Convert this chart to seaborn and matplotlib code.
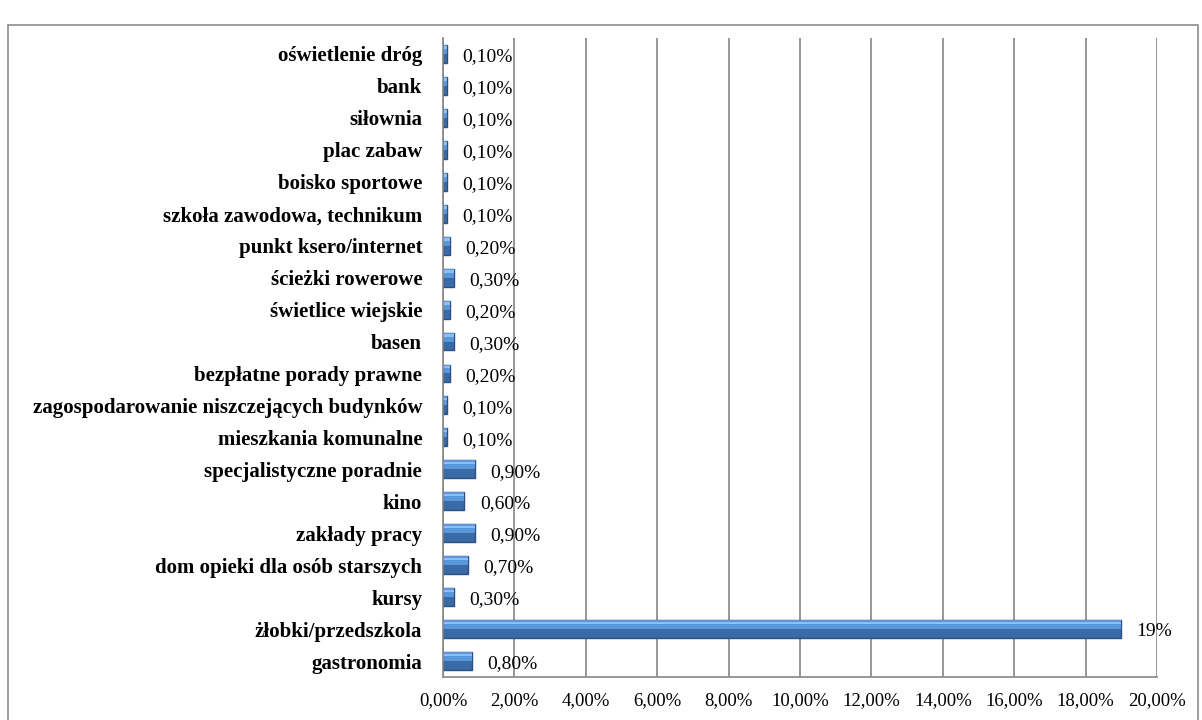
import matplotlib
matplotlib.use('Agg')
import matplotlib.pyplot as plt
import numpy as np
import pandas as pd
import seaborn as sns

categories = ['oświetlenie dróg', 'bank', 'siłownia', 'plac zabaw', 'boisko sportowe',
              'szkoła zawodowa, technikum', 'punkt ksero/internet', 'ścieżki rowerowe',
              'świetlice wiejskie', 'basen', 'bezpłatne porady prawne',
              'zagospodarowanie niszczejących budynków', 'mieszkania komunalne',
              'specjalistyczne poradnie', 'kino', 'zakłady pracy',
              'dom opieki dla osób starszych', 'kursy', 'żłobki/przedszkola', 'gastronomia']
values = [0.1, 0.1, 0.1, 0.1, 0.1, 0.1, 0.2, 0.3, 0.2, 0.3, 0.2, 0.1, 0.1,
          0.9, 0.6, 0.9, 0.7, 0.3, 19, 0.8]
value_labels = ['0,10%', '0,10%', '0,10%', '0,10%', '0,10%', '0,10%', '0,20%', '0,30%',
                '0,20%', '0,30%', '0,20%', '0,10%', '0,10%', '0,90%', '0,60%', '0,90%',
                '0,70%', '0,30%', '19%', '0,80%']
x_ticks = [0, 2, 4, 6, 8, 10, 12, 14, 16, 18, 20]
x_tick_labels = ['0,00%', '2,00%', '4,00%', '6,00%', '8,00%', '10,00%', '12,00%',
                 '14,00%', '16,00%', '18,00%', '20,00%']

df = pd.DataFrame({'kategoria': categories, 'wartosc': values})

sns.set_style('white')
plt.rcParams['font.family'] = ['Liberation Serif', 'DejaVu Serif']

fig = plt.figure(figsize=(12.02, 7.2), dpi=100)
ax = fig.add_axes([0.3686, 0.0597, 0.594, 0.8875])

# outer chart frame
fig.patches.append(plt.Rectangle((0.007, -0.01), 0.99, 0.975, transform=fig.transFigure,
                                 fill=False, edgecolor='#8c8c8c', linewidth=1.2))

bw = 0.56
# dark lower body
sns.barplot(data=df, x='wartosc', y='kategoria', orient='h', ax=ax, width=bw,
            color='#3a6ba6', edgecolor='#2a5083', linewidth=1.0, saturation=1)
n0 = len(ax.patches)
# lighter upper half for the bevelled look
sns.barplot(data=df, x='wartosc', y='kategoria', orient='h', ax=ax, width=bw,
            color='#5a96dc', linewidth=0, saturation=1)
n1 = len(ax.patches)
sns.barplot(data=df, x='wartosc', y='kategoria', orient='h', ax=ax, width=bw,
            color='#8cc0f0', linewidth=0, saturation=1)
for p in ax.patches[n0:n1]:
    p.set_height(bw * 0.5)
for p in ax.patches[n1:]:
    p.set_y(p.get_y() + bw * 0.08)
    p.set_height(bw * 0.14)

for i, lab in enumerate(value_labels):
    ax.annotate(lab, xy=(values[i], i), xytext=(11, -2), textcoords='offset points',
                ha='left', va='center', fontsize=14, color='black')

ax.set_xlim(0, 20)
ax.set_ylim(len(categories) - 0.5, -0.5)
ax.set_xticks(x_ticks)
ax.set_xticklabels(x_tick_labels, fontsize=13.5)
ax.set_yticks(range(len(categories)))
ax.set_yticklabels(categories, fontsize=15, fontweight='bold')
ax.set_yticks(np.arange(-0.5, len(categories)), minor=True)
ax.tick_params(axis='y', which='major', length=0, pad=15, labelcolor='black')
ax.tick_params(axis='y', which='minor', length=5, color='#868686', width=1)
ax.tick_params(axis='x', which='major', length=5, color='#868686', width=1, pad=6,
               labelcolor='black')
ax.set_xlabel('')
ax.set_ylabel('')

ax.grid(axis='x', color='#868686', linewidth=1.2)
ax.set_axisbelow(True)
for s in ['top', 'right']:
    ax.spines[s].set_visible(False)
for s in ['left', 'bottom']:
    ax.spines[s].set_color('#868686')
    ax.spines[s].set_linewidth(1.2)

fig.savefig('out.png', dpi=100)
